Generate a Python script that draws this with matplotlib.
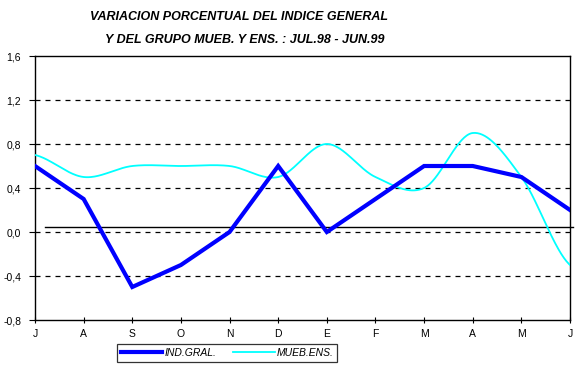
import numpy as np
import matplotlib
matplotlib.use("Agg")
import matplotlib.pyplot as plt
from matplotlib.lines import Line2D

months = ["J", "A", "S", "O", "N", "D", "E", "F", "M", "A", "M", "J"]
ind_gral = [0.6, 0.3, -0.5, -0.3, 0.0, 0.6, 0.0, 0.3, 0.6, 0.6, 0.5, 0.2]
mueb_ens = [0.7, 0.5, 0.6, 0.6, 0.6, 0.5, 0.8, 0.5, 0.4, 0.9, 0.5, -0.3]
ref_level = 0.045
yticks = [-0.8, -0.4, 0.0, 0.4, 0.8, 1.2, 1.6]

plt.rcParams['font.family'] = ['Liberation Sans', 'DejaVu Sans']

def catmull_rom(y, n=40):
    y = np.asarray(y, float)
    m = len(y)
    p = np.concatenate([[y[0]], y, [y[-1]]])
    xs, ys = [], []
    for i in range(m - 1):
        p0, p1, p2, p3 = p[i], p[i + 1], p[i + 2], p[i + 3]
        c1 = p1 + (p2 - p0) / 6
        c2 = p2 - (p3 - p1) / 6
        t = np.linspace(0, 1, n, endpoint=(i == m - 2))
        b = (1 - t) ** 3 * p1 + 3 * (1 - t) ** 2 * t * c1 + 3 * (1 - t) * t ** 2 * c2 + t ** 3 * p2
        xs.append(i + t)
        ys.append(b)
    return np.concatenate(xs), np.concatenate(ys)

fig = plt.figure(figsize=(5.81, 3.69), dpi=100)
ax = fig.add_axes([35 / 581, 1 - 320 / 369, (570 - 35) / 581, (320 - 56) / 369])

x = np.arange(len(months))
for yv in yticks[1:-1]:
    ax.axhline(yv, color='black', lw=0.9, ls=(0, (4, 4)), zorder=1)

ax.plot([0.2, 11.06], [ref_level, ref_level], color='black', lw=1.0, clip_on=False, zorder=2)

xs, ys = catmull_rom(mueb_ens)
ax.plot(xs, ys, color='#00FFFF', lw=1.3, zorder=3)
ax.plot(x, ind_gral, color='#0000FF', lw=3.0, zorder=4, solid_joinstyle='miter')

ax.set_xlim(0, 11)
ax.set_ylim(-0.8, 1.6)
ax.set_yticks(yticks)
ax.set_yticklabels([f"{v:.1f}".replace('.', ',') for v in yticks], fontsize=7.5)
ax.set_xticks(x)
ax.set_xticklabels(months, fontsize=7.5)
ax.tick_params(axis='y', direction='out', length=4, width=0.8, color='black', pad=6)
ax.tick_params(axis='x', direction='inout', length=5, width=0.8, color='black', pad=4)
for s in ax.spines.values():
    s.set_color('black')
    s.set_linewidth(1.0)

fig.text(239 / 581, 1 - 17 / 369, "VARIACION PORCENTUAL DEL INDICE GENERAL",
         ha='center', va='center', fontsize=9, fontweight='bold', fontstyle='italic')
fig.text(245 / 581, 1 - 40 / 369, "Y DEL GRUPO MUEB. Y ENS. : JUL.98 - JUN.99",
         ha='center', va='center', fontsize=9, fontweight='bold', fontstyle='italic')

handles = [Line2D([], [], color='#0000FF', lw=3.0), Line2D([], [], color='#00FFFF', lw=1.3)]
leg = fig.legend(handles, ["IND.GRAL.", "MUEB.ENS."], ncol=2, loc='center',
                 bbox_to_anchor=(227 / 581, 1 - 353 / 369), frameon=True, fancybox=False,
                 edgecolor='black', prop={'size': 7.5, 'style': 'italic'},
                 handlelength=4.0, handletextpad=0.2, columnspacing=1.6,
                 borderpad=0.35, borderaxespad=0)
leg.get_frame().set_linewidth(0.9)

fig.savefig("out.png", dpi=100)
